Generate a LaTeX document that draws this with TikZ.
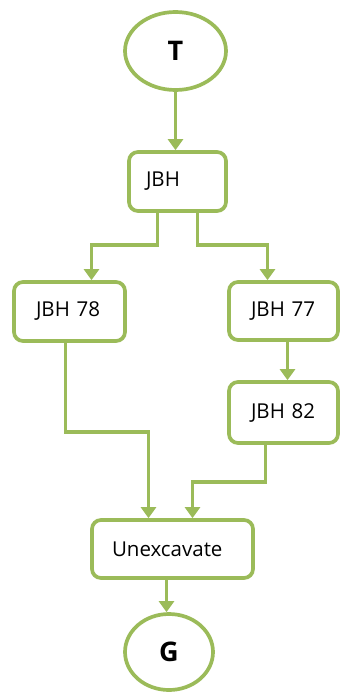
\documentclass[tikz,border=0pt]{standalone}
\usepackage{fontspec}
\setmainfont{Open Sans}
\usetikzlibrary{arrows.meta,shapes.geometric}
\definecolor{olive}{RGB}{155,187,89}

\begin{document}
\begin{tikzpicture}[x=1pt, y=-1pt,
    flow/.style={draw=olive, line width=3.7pt, -{Triangle[width=15pt,length=11pt]}},
    term/.style={ellipse, draw=olive, line width=3.7pt, inner sep=0pt, font=\bfseries\fontsize{27}{30}\selectfont},
    stepbox/.style={rectangle, rounded corners=9pt, draw=olive, line width=3.7pt, inner sep=0pt, font=\fontsize{20.5}{24}\selectfont}]

      \useasboundingbox (0, 0) rectangle (342, 696);

      % start and goal
      \node[term, minimum width=101pt, minimum height=78pt] (t) at (175.5, 51) {T};
      \node[term, minimum width=88pt, minimum height=76pt] (g) at (169, 652) {G};

      % boxes
      \node[stepbox, minimum width=97pt, minimum height=59pt, text width=63pt, align=left] (jbh) at (177.5, 181.5) {JBH};
      \node[stepbox, minimum width=111pt, minimum height=59pt, text width=67pt, align=left] (j78) at (69.5, 311.5) {JBH 78};
      \node[stepbox, minimum width=109pt, minimum height=58pt, text width=65pt, align=left] (j77) at (283.5, 311) {JBH 77};
      \node[stepbox, minimum width=109pt, minimum height=61pt, text width=65pt, align=left] (j82) at (283.5, 412.5) {JBH 82};
      \node[stepbox, minimum width=161pt, minimum height=58pt, text width=121pt, align=left] (unexc) at (172.5, 549) {Unexcavate};

      % connectors
      \draw[flow] (t.south) -- (t.south |- jbh.north);
      \draw[flow] ([xshift=-20pt]jbh.south) -- ++(0, 32) -| ([xshift=22pt]j78.north);
      \draw[flow] ([xshift=20pt]jbh.south) -- ++(0, 32) -| ([xshift=-16pt]j77.north);
      \draw[flow] ([xshift=4pt]j77.south) -- ([xshift=4pt]j82.north);
      \draw[flow] ([xshift=-4pt]j78.south) -- ++(0, 89) -| ([xshift=-24pt]unexc.north);
      \draw[flow] ([xshift=-18pt]j82.south) -- ++(0, 37) -| ([xshift=20pt]unexc.north);
      \draw[flow] ([xshift=-6pt]unexc.south) coordinate (u) -- (u |- g.north);

    \end{tikzpicture}
\end{document}
